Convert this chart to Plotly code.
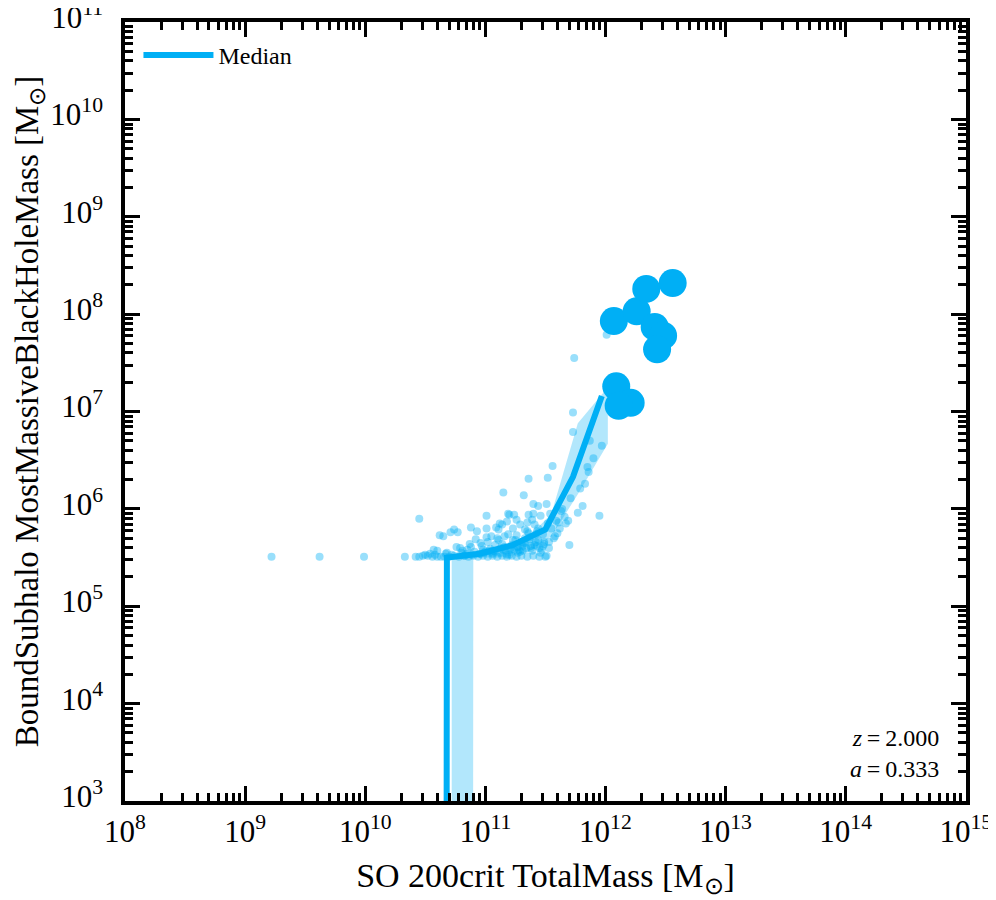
import numpy as np
import plotly.graph_objects as go

# log10 masses (x: SO 200crit TotalMass, y: MostMassiveBlackHoleMass)
scatter_logx = [9.22, 9.62, 9.99, 10.33,
                10.42, 10.45, 10.48, 10.52, 10.56, 10.60, 10.63, 10.66, 10.70, 10.74,
                10.78, 10.82, 10.86, 10.90, 10.94, 10.98, 11.02, 11.06, 11.10, 11.14,
                11.18, 11.22, 11.26, 11.30, 11.35, 11.40, 11.45, 11.50,
                10.57, 10.60, 10.62, 10.65, 10.45, 10.71, 10.74, 10.77, 10.76, 10.88,
                10.93, 11.01, 11.01, 10.92, 10.96, 10.88, 11.01, 11.05, 11.09, 11.12,
                11.11, 11.10, 11.19, 10.81, 10.85, 10.68, 10.98, 11.04,
                11.56, 11.52, 11.36, 11.15, 11.32, 11.40, 11.44, 11.51, 11.20, 11.24,
                11.36, 11.40, 11.46, 11.54, 11.18, 11.26, 11.29, 11.35, 11.39, 11.41,
                11.14, 11.23, 11.33, 11.43, 11.16, 11.25, 11.37, 11.44, 11.22, 11.31,
                11.39, 11.47, 11.27, 11.18, 11.51, 11.58, 11.70, 11.67, 11.77, 11.81,
                11.71, 11.95, 11.86, 11.85, 11.97, 11.35, 11.73, 11.73, 11.87, 11.74,
                12.01, 11.08, 11.13, 11.28, 11.42, 11.48, 10.96, 11.03, 11.21, 11.33,
                10.50, 10.54, 10.58, 10.67, 10.72, 10.80, 10.84, 10.91, 10.99, 11.07,
                11.12, 11.17, 11.24, 11.29, 11.34, 11.38, 11.45, 11.49, 11.53, 11.57,
                10.83, 10.89, 10.95, 11.00, 11.06, 11.15, 11.20, 11.27, 11.31, 11.42,
                11.46, 11.37, 11.62, 11.66, 11.60, 11.79, 11.64, 11.69, 11.83, 11.90,
                10.97, 11.02, 11.08, 11.11, 11.16, 11.19, 11.23, 11.26, 11.30, 11.33,
                11.36, 11.41, 11.44, 11.48, 11.52, 11.55, 11.59, 11.63, 11.21, 11.27,
                11.32, 11.38, 11.43, 11.49, 11.05, 11.14, 10.87, 10.79, 11.53, 11.61]
scatter_logy = [5.51, 5.51, 5.51, 5.51,
                5.51, 5.51, 5.52, 5.52, 5.51, 5.51, 5.51, 5.51, 5.51, 5.52,
                5.51, 5.52, 5.51, 5.52, 5.51, 5.52, 5.51, 5.52, 5.51, 5.52,
                5.51, 5.52, 5.51, 5.52, 5.51, 5.52, 5.51, 5.51,
                5.58, 5.57, 5.73, 5.72, 5.90, 5.76, 5.79, 5.76, 5.61, 5.81,
                5.77, 5.93, 5.80, 5.69, 5.65, 5.61, 5.71, 5.72, 5.81, 5.85,
                5.79, 5.70, 5.95, 5.57, 5.58, 5.55, 5.58, 5.59,
                6.44, 6.32, 6.31, 6.17, 6.14, 6.05, 6.03, 6.05, 5.94, 5.94,
                5.94, 5.95, 5.93, 5.95, 5.87, 5.89, 5.84, 5.86, 5.89, 5.84,
                5.84, 5.80, 5.79, 5.77, 5.72, 5.68, 5.71, 5.68, 5.63, 5.62,
                5.57, 5.58, 5.55, 5.53, 5.52, 5.72, 5.63, 5.85, 5.96, 6.03,
                6.11, 5.93, 6.38, 6.43, 6.65, 5.77, 6.99, 6.79, 6.70, 7.55,
                7.79, 5.56, 5.60, 5.58, 5.66, 5.62, 5.54, 5.57, 5.60, 5.65,
                5.53, 5.54, 5.53, 5.54, 5.53, 5.55, 5.54, 5.56, 5.55, 5.57,
                5.55, 5.57, 5.58, 5.56, 5.60, 5.62, 5.60, 5.64, 5.66, 5.70,
                5.52, 5.53, 5.54, 5.56, 5.54, 5.58, 5.53, 5.61, 5.57, 5.74,
                5.55, 5.69, 5.80, 5.92, 5.75, 6.21, 6.00, 5.88, 6.26, 6.52,
                5.62, 5.66, 5.63, 5.68, 5.61, 5.74, 5.68, 5.73, 5.66, 5.70,
                5.75, 5.63, 5.80, 5.74, 5.85, 5.80, 5.88, 5.98, 5.58, 5.61,
                5.65, 5.60, 5.62, 5.66, 5.56, 5.64, 5.64, 5.60, 5.60, 5.86]

# most massive haloes plotted individually
big_logx = [12.07, 12.26, 12.34, 12.56, 12.41, 12.48, 12.43, 12.09, 12.21, 12.11]
big_logy = [7.93, 8.03, 8.26, 8.32, 7.87, 7.78, 7.64, 7.26, 7.09, 7.06]

# binned median (0 = no black hole in the bin)
median_logx = [10.43, 10.68, 10.95, 11.23, 11.50, 11.73, 11.97]
median_bh = [0.0, 10**5.50, 10**5.54, 10**5.63, 10**5.79, 10**6.33, 10**7.16]

# 16th-84th percentile band
band_logx = [10.72, 10.90, 11.13, 11.35, 11.55, 11.77, 12.02]
band_lo = [0.0, 10**5.50, 10**5.50, 10**5.55, 10**5.72, 10**6.15, 10**6.67]
band_hi = [10**5.52, 10**5.55, 10**5.62, 10**5.70, 10**5.95, 10**6.88, 10**7.25]

x_decades = list(range(8, 16))
y_decades = list(range(3, 12))

blue = "rgb(0,175,245)"
serif = "Liberation Serif"


def clip(v):
    # log axes: zeros get pushed far below the axis, like matplotlib's clip
    v = np.array(v, dtype=float)
    return np.where(v > 0, v, 1e-300)


bx = 10 ** np.array(band_logx)
fig = go.Figure()

fig.add_trace(go.Scatter(
    x=10 ** np.array(scatter_logx), y=10 ** np.array(scatter_logy), mode="markers",
    marker=dict(size=8, color=blue, opacity=0.4, line=dict(width=0)),
    showlegend=False, hoverinfo="skip"))

fig.add_trace(go.Scatter(
    x=np.concatenate([bx, bx[::-1]]),
    y=np.concatenate([clip(band_hi), clip(band_lo)[::-1]]),
    mode="lines", fill="toself", fillcolor="rgba(0,175,245,0.3)",
    line=dict(width=0), showlegend=False, hoverinfo="skip"))

fig.add_trace(go.Scatter(
    x=10 ** np.array(median_logx), y=clip(median_bh), mode="lines",
    line=dict(color=blue, width=6), name="Median"))

fig.add_trace(go.Scatter(
    x=10 ** np.array(big_logx), y=10 ** np.array(big_logy), mode="markers",
    marker=dict(size=28, color=blue, line=dict(width=0)), showlegend=False))


def minor_vals(decades):
    return [m * 10.0 ** d for d in decades[:-1] for m in range(2, 10)]


axis_common = dict(
    type="log", showgrid=False, zeroline=False, automargin=False,
    showline=True, linecolor="black", linewidth=3.5, mirror="allticks",
    ticks="inside", ticklen=15, tickwidth=2.5, tickcolor="black",
    ticklabeloverflow="allow",
    tickfont=dict(family=serif, size=31, color="black"),
)

fig.update_xaxes(
    **axis_common, range=[8, 15.002], tickmode="array",
    tickvals=[10.0 ** d for d in x_decades],
    ticktext=[f"10<sup>{d}</sup>" for d in x_decades],
    minor=dict(tickmode="array", tickvals=minor_vals(x_decades), ticks="inside",
               ticklen=8, tickwidth=2.5, tickcolor="black"),
    title=dict(text="SO 200crit TotalMass [M<sub>\u2299</sub>]",
               font=dict(family=serif, size=34, color="black"), standoff=16))

fig.update_yaxes(
    **axis_common, range=[3, 11.002], tickmode="array",
    ticklabelstandoff=12, ticklabelshift=-5,
    tickvals=[10.0 ** d for d in y_decades],
    ticktext=[f"10<sup>{d}</sup>" for d in y_decades],
    minor=dict(tickmode="array", tickvals=minor_vals(y_decades), ticks="inside",
               ticklen=8, tickwidth=2.5, tickcolor="black"),
    title=dict(text="BoundSubhalo MostMassiveBlackHoleMass [M<sub>\u2299</sub>]",
               font=dict(family=serif, size=33, color="black"), standoff=0))

fig.add_annotation(
    xref="paper", yref="paper", x=0.97, y=0.022, xanchor="right", yanchor="bottom",
    align="right", showarrow=False,
    text="<i>z</i>\u2009=\u20092.000<br><i>a</i>\u2009=\u20090.333",
    font=dict(family=serif, size=24, color="black"))

fig.update_layout(
    width=988, height=892,
    margin=dict(l=117, r=30, t=14, b=99),
    paper_bgcolor="white", plot_bgcolor="white",
    legend=dict(x=0.016, y=0.986, xanchor="left", yanchor="top", itemwidth=70,
                bgcolor="rgba(0,0,0,0)", font=dict(family=serif, size=24, color="black")),
)

fig.write_html("out.html")
